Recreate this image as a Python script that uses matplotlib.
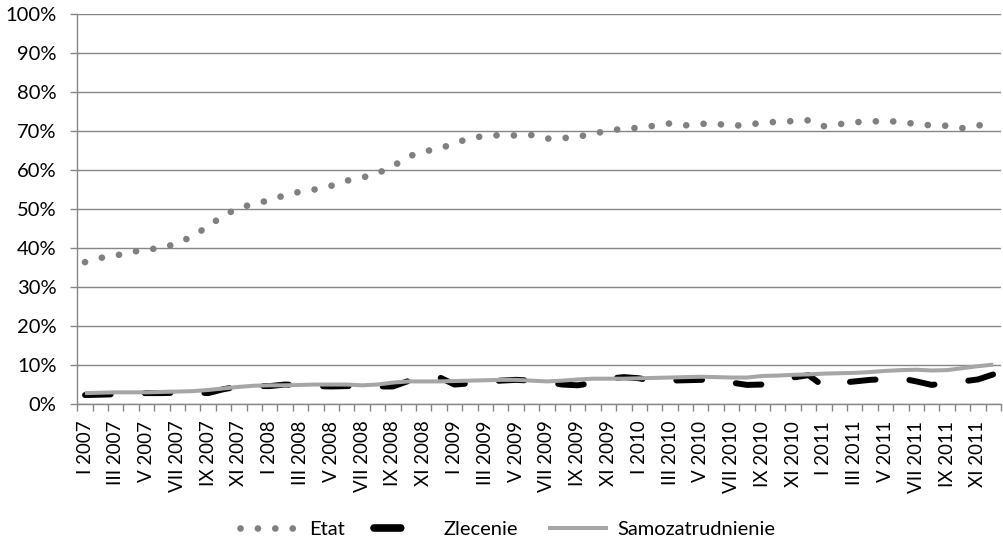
import numpy as np
import matplotlib.pyplot as plt
from matplotlib.lines import Line2D
from matplotlib.ticker import FixedLocator, PercentFormatter

plt.rcParams['font.family'] = ['Lato', 'DejaVu Sans']
plt.rcParams['font.size'] = 14.5

# monthly shares (%), I 2007 - XII 2011
years = [2007, 2008, 2009, 2010, 2011]
roman = ['I', 'II', 'III', 'IV', 'V', 'VI', 'VII', 'VIII', 'IX', 'X', 'XI', 'XII']
months = [f'{r} {y}' for y in years for r in roman]

etat = [36.4, 37.5, 38.1, 39.0, 39.6, 40.1, 41.2, 43.1, 45.6, 48.4,
        50.3, 51.4, 52.3, 53.6, 54.5, 55.1, 56.0, 57.3, 58.1, 59.2,
        61.0, 63.5, 64.8, 65.5, 66.9, 68.2, 68.8, 69.0, 68.9, 69.0,
        68.1, 68.2, 68.6, 69.3, 70.2, 70.6, 70.9, 71.4, 72.0, 71.5,
        71.9, 71.9, 71.4, 71.6, 72.2, 72.4, 72.6, 72.8, 71.3, 71.8,
        72.3, 72.5, 72.6, 72.4, 71.8, 71.5, 71.4, 70.8, 71.5, 71.7]

zlecenie = [2.3, 2.4, 2.5, 2.7, 2.8, 2.8, 2.9, 3.0, 2.8, 3.8,
            4.5, 4.6, 4.6, 5.0, 4.8, 4.6, 4.5, 4.6, 4.6, 4.5,
            4.5, 5.9, 7.0, 6.9, 5.0, 5.3, 5.6, 6.0, 6.2, 6.0,
            5.6, 5.0, 4.8, 5.4, 6.5, 6.9, 6.6, 5.8, 6.0, 6.1,
            6.2, 6.2, 5.5, 4.9, 5.0, 5.7, 6.8, 7.4, 4.5, 5.4,
            5.8, 6.2, 6.4, 6.6, 5.8, 4.9, 5.4, 5.8, 6.3, 7.6]

samozatrudnienie = [2.8, 2.9, 3.0, 3.0, 3.0, 3.1, 3.2, 3.3, 3.6, 4.0,
                    4.4, 4.7, 4.8, 4.8, 4.9, 5.0, 5.0, 5.0, 4.8, 5.0,
                    5.5, 5.8, 5.8, 5.8, 5.9, 6.0, 6.1, 6.2, 6.2, 6.0,
                    5.8, 6.0, 6.3, 6.5, 6.5, 6.5, 6.6, 6.7, 6.8, 6.9,
                    7.0, 6.9, 6.8, 6.8, 7.2, 7.3, 7.5, 7.6, 7.8, 7.9,
                    8.0, 8.2, 8.5, 8.7, 8.8, 8.6, 8.7, 9.2, 9.7, 10.1]

x = np.arange(len(months))
grid_col = '#868686'

etat_style = dict(color='#808080', lw=4.8, linestyle=(0, (0.01, 2.6)),
                  dash_capstyle='round')
zlec_style = dict(color='black', lw=4.3, linestyle=(0, (4.3, 5.7)),
                  dash_capstyle='round')
samo_style = dict(color='#a6a6a6', lw=2.9, solid_capstyle='butt')

fig = plt.figure(figsize=(10.04, 5.41), dpi=100)
ax = fig.add_axes([0.077, 0.2532, 0.92, 0.7204])

ax.plot(x, etat, zorder=3, **etat_style)
ax.plot(x, zlecenie, zorder=4, **zlec_style)
ax.plot(x, samozatrudnienie, zorder=5, **samo_style)

ax.set_xlim(-0.5, len(months) - 0.5)
ax.set_ylim(0, 100)

ax.yaxis.set_major_locator(FixedLocator(np.arange(0, 101, 10)))
ax.yaxis.set_major_formatter(PercentFormatter(decimals=0))
ax.grid(axis='y', color=grid_col, lw=1.0)
ax.set_axisbelow(True)

ax.set_xticks(x[::2])
ax.set_xticklabels(months[::2], rotation=90, va='top', fontsize=13.5)
ax.set_xticks(np.arange(-0.5, len(months)), minor=True)

ax.tick_params(axis='x', which='major', length=0, pad=12)
ax.tick_params(axis='x', which='minor', length=5, width=1, color=grid_col)
ax.tick_params(axis='y', length=5, width=1, color=grid_col, pad=10)

for side in ['top', 'right']:
    ax.spines[side].set_visible(False)
for side in ['left', 'bottom']:
    ax.spines[side].set_color(grid_col)
    ax.spines[side].set_linewidth(1.0)

# legend keys: the dashed one shows just a single dash
handles = [Line2D([], [], **etat_style),
           Line2D([], [], color='black', lw=5.5, linestyle=(0, (3.5, 20)),
                  dash_capstyle='round'),
           Line2D([], [], **samo_style)]
fig.legend(handles, ['Etat', 'Zlecenie', 'Samozatrudnienie'],
           loc='center', bbox_to_anchor=(0.5055, 0.0205), ncol=3, frameon=False,
           handlelength=3.0, handletextpad=0.45, columnspacing=1.45)

fig.savefig('out.png', dpi=100)
